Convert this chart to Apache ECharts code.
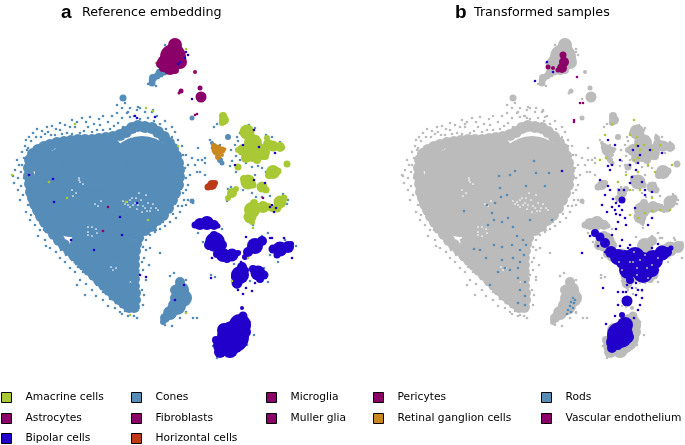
<!DOCTYPE html>
<html><head><meta charset="utf-8">
<style>html,body{margin:0;padding:0;background:#fff}#c{width:685px;height:445px}</style>
<script src="https://cdn.jsdelivr.net/npm/echarts@6/dist/echarts.min.js"></script>
</head><body><div id="c"></div>
<script>
// Values: [x, y, cluster diameter] for dense clusters, [x, y] for single cells.
const rodClusters=[[80,190,96],[142,172,72],[105,240,58],[122,270,28],[128,290,16],[60,175,50],[100,165,54],[70,215,44],[150,195,50],[130,215,50],[110,150,24],[75,155,28],[48,165,30],[45,190,30],[110,270,24],[118,285,22],[125,296,14],[95,262,20],[128,255,20],[85,245,30],[60,228,16],[130,300,10],[122,292,14],
[30,160,12],[29,168,12],[29,176,12],[30,184,12],[31,192,12],[33,198,12],[35,204,12],[38,210,12],[41,216,12],[45,222,12],[49,228,12],[54,234,12],[59,240,12],[64,245,12],[69,250,12],[74,255,12],[79,260,12],[84,265,12],[89,270,12],[94,275,12],[99,280,12],[104,285,12],[109,290,12],[114,295,12],[119,299,12],[124,303,12],[129,307,12],[134,307,12],[136,300,10],[136,293,10],[135,286,10],[135,279,10],[135,272,10],[135,265,10],[135,258,10],[136,251,10],[137,244,10],[139,238,10],[145,230,12],[151,226,12],[157,220,12],[163,215,12],[168,208,12],[172,200,12],[175,193,12],[178,185,12],[179,177,12],[179,170,12],[178,163,12],[176,156,12],[173,149,12],[169,143,12],[164,137,12],[158,132,12],[152,128,12],[145,127,12],[138,126,12],[132,128,12],[126,132,12],[120,135,12],[113,137,12],[106,138,12],[99,139,12],[92,140,12],[85,140,12],[78,140,12],[71,141,12],[64,142,12],[57,143,12],[50,145,12],[44,147,12],[38,150,12],[33,154,12],
[123,98,7],[228,137,6],[192,201,5],[180,282,10],[181,290,16],[183,298,18],[177,306,18],[170,313,14],[165,318,10],[163,322,6],[175,290,10],[176,298,12],[160,73,9],[153,78,8],[152,83,7],[164,72,7],[157,76,7],[220,160,6],[222,163,5],[212,143,4],[192,118,5]];
const rodCells=[[13,176],[15,170],[17,160],[19,165],[14,183],[18,190],[20,200],[22,152],[25,146],[24,158],[18,178],[21,172],[26,140],[29,137],[27,150],[33,133],[37,129],[42,131],[47,127],[52,126],[48,132],[56,129],[60,123],[65,125],[70,127],[72,120],[77,122],[82,118],[86,122],[90,117],[94,124],[99,119],[103,116],[108,122],[112,116],[117,113],[122,118],[127,113],[130,117],[118,123],[100,125],[88,127],[75,127],[60,130],[137,110],[145,112],[153,110],[157,116],[165,121],[172,127],[175,132],[178,140],[182,146],[186,155],[188,165],[190,175],[188,185],[186,190],[184,200],[182,206],[180,212],[176,218],[170,222],[165,226],[160,229],[155,232],[150,235],[146,240],[143,247],[146,250],[144,258],[143,270],[146,280],[144,295],[143,305],[150,248],[156,230],[28,205],[26,212],[31,215],[35,225],[30,220],[40,230],[38,236],[45,240],[50,248],[46,246],[56,252],[60,258],[65,262],[70,268],[75,272],[80,280],[86,284],[92,290],[96,296],[103,300],[108,306],[115,308],[122,314],[128,316],[134,316],[77,285],[85,295],[120,312],[117,105],[122,108],[130,108],[138,107],[125,103],[140,108],[152,112],[128,112],
[21,186],[23,195],[24,178],[22,165],[26,168],[28,148],[31,141],[36,137],[41,137],[45,134],[51,135],[55,135],[62,134],[67,133],[72,134],[80,133],[84,131],[92,132],[97,130],[103,130],[110,129],[114,126],[123,127],[134,116],[140,119],[148,118],[154,121],[160,124],[166,129],[172,137],[176,145],[183,155],[185,168],[186,178],[183,193],[178,206],[173,214],[163,222],[156,226],[148,232],[143,238],[142,262],[142,290],[33,208],[36,214],[40,222],[44,230],[50,236],[55,242],[61,250],[66,255],[72,260],[78,267],[83,272],[90,277],[97,285],[103,292],[110,299],[116,303],[125,311],
[192,158],[195,165],[200,172],[198,160],[205,163],[160,253],[149,265],[137,318],[170,276],[174,273],[186,280],[189,300],[186,312],[193,318],[197,318],[165,325],[172,326],[180,318],[156,86],[150,80],[148,84],[165,45],[211,275],[215,277],
[217,124],[214,127],[225,123],[221,124],[220,145],[210,140],[212,148],[232,161],[236,156],[231,150],[235,145],[238,141],[243,128],[240,133],[237,137],[249,125],[255,128],[246,163],[252,167],[258,166],[262,168],[266,172],[258,137],[266,135],[272,137],[280,142],[284,148],[230,166],[236,172],[240,160],[228,189],[231,187],[227,201],[248,178],[255,175],[243,190],[252,193],[256,197],[262,197],[270,196],[283,194],[287,204],[247,210],[288,200],[253,225],[198,233],[222,229],[232,258],[240,252],[262,236],[268,233],[285,240],[278,262],[296,246],[270,255],[234,264],[237,288],[250,281],[264,268],[268,282],[212,234],[208,249],[203,242],[254,335],[247,345],[250,322],[213,346],[217,358],[247,326],[202,160],[197,172],[193,203],[188,200],[205,158],[198,148],[205,175],[186,205]];
const bipolarClusters=[[200,224,12],[207,223,14],[214,225,10],[195,225,7],[218,226,5],[215,242,20],[209,245,10],[222,245,10],[214,235,8],[223,255,14],[232,255,13],[217,254,8],[227,259,8],[238,253,6],[255,246,16],[248,252,10],[262,241,10],[245,257,6],[280,249,15],[288,247,12],[273,249,9],[277,255,7],[291,244,6],[240,275,18],[242,267,10],[237,283,11],[235,277,8],[246,270,6],[258,273,15],[264,275,9],[253,269,8],[260,279,8],[233,337,32],[240,325,22],[223,345,20],[220,352,12],[230,350,16],[245,332,12],[243,316,9],[242,308,4],[216,340,8],[224,330,14],[236,347,12]];
const bipolarCells=[[137,118],[135,116],[155,117],[185,58],[188,55],[180,62],[186,52],[53,179],[29,175],[54,202],[120,217],[137,203],[94,250],[122,235],[71,240],[146,277],[175,300],[184,285],[140,275],[212,258],[292,258],[270,238],[243,145],[254,130],[259,147],[275,153],[235,165],[254,180],[265,183],[270,207],[276,208],[272,205],[274,212],[241,262],[238,290],[246,288],[255,283],[272,238],[284,238],[194,225],[252,291],[243,294],[211,278],[178,64],[246,237],[192,99]];
const amacrineClusters=[[223,116,8],[224,120,10],[222,123,6],[247,132,15],[253,143,18],[252,153,18],[243,150,12],[262,152,16],[268,144,10],[273,146,11],[280,147,10],[238,150,6],[246,158,10],[257,160,8],[265,156,8],[267,138,6],[258,146,8],[287,164,7],[273,172,14],[269,175,8],[278,171,7],[238,167,7],[248,182,15],[253,185,7],[244,179,8],[262,187,11],[266,190,7],[232,193,10],[228,198,6],[236,189,6],[252,210,16],[250,217,13],[252,222,6],[254,203,8],[263,207,12],[258,208,10],[268,207,8],[280,202,13],[277,208,9],[284,198,7],[272,209,6]];
const amacrineCells=[[253,228],[12,175],[49,182],[67,198],[75,124],[153,111],[178,146],[126,202],[130,315],[186,313],[148,220],[248,258],[232,281],[176,55],[156,63],[186,49],[146,108]];
const astrocyteClusters=[[175,45,14],[173,57,26],[165,63,16],[180,62,14],[160,64,8],[178,50,10],[170,68,14],[183,60,6],[175,70,8],[163,68,8]];
const microgliaClusters=[[201,97,11],[203,96,6],[200,88,5],[181,91,5],[179,93,3],[195,72,4]];
const pericyteCells=[[195,115],[197,114],[108,207],[103,231],[263,198]];
const ganglionClusters=[[217,150,11],[222,150,7],[214,146,6],[218,157,6],[222,155,4],[225,149,3]];
const horizontalClusters=[[212,185,10],[208,187,7],[215,183,6]];
// Panel b: transformed samples over the grey embedding
const tBipolarClusters=[[205,233,8],[210,237,9],[215,243,10],[221,252,12],[228,257,16],[235,260,20],[245,257,20],[252,263,22],[263,260,20],[272,253,15],[277,252,10],[281,248,5],[238,270,18],[253,273,20],[262,270,14],[240,280,8],[237,301,11],[232,315,6],[235,325,16],[230,335,26],[223,342,14],[238,337,12],[222,348,10],[232,200,7],[228,346,8]];
const tGreyCells=[[243,262],[247,268],[250,260],[257,268],[240,262],[232,270],[229,262],[247,275],[255,255],[262,265],[268,258],[244,252],[258,278],[233,349],[228,352],[236,307],[232,306],[250,283]];
const tBipolarCells=[[200,236],[208,246],[215,252],[230,246],[240,245],[262,270],[268,270],[228,292],[236,292],[246,295],[250,305],[228,305],[252,298],[225,316],[248,310],[213,288],[240,165],[246,170],[252,182],[255,190],[230,160],[243,150],[260,150],[272,153],[222,165],[220,170],[218,166],[218,140],[225,145],[210,180],[215,195],[222,207],[217,212],[225,210],[230,215],[235,218],[228,222],[212,205],[226,229],[236,225],[255,195],[262,192],[245,208],[262,218],[258,225],[192,253],[172,171],[157,62],[163,72],[145,81],[223,199],[226,203],[229,206],[220,190],[218,186],[229,190],[240,183],[242,177],[248,163],[250,155],[248,146],[234,190],[226,214],[232,210],[222,235],[232,240],[238,248],[262,248],[268,244],[280,247],[248,290],[242,288],[216,324],[220,330],[244,318],[252,290],[233,292],[237,285],[246,283]];
const tAmacrineCells=[[222,124],[215,135],[240,135],[247,137],[250,150],[254,145],[262,150],[270,145],[258,165],[248,158],[236,175],[228,182],[240,190],[250,190],[265,172],[282,165],[210,160],[216,158],[240,215],[255,213],[262,211],[270,210],[280,210],[248,218],[248,172],[262,198],[230,198],[244,120],[246,145],[244,160]];
const tAstrocyteClusters=[[173,55,7],[174,62,10],[172,68,10],[158,67,5],[163,68,4],[168,70,5]];
const tPericyteCells=[[187,77],[193,103],[190,103],[184,120],[184,122]];
const tRodCells=[[144,161],[120,175],[125,171],[109,176],[146,173],[159,173],[136,186],[155,186],[105,203],[110,188],[111,197],[117,195],[97,205],[74,211],[102,213],[98,225],[104,220],[112,222],[118,218],[123,227],[127,236],[133,240],[140,220],[162,220],[122,245],[130,250],[136,245],[104,245],[112,247],[90,250],[84,249],[96,258],[112,260],[123,258],[130,262],[134,255],[115,268],[108,272],[120,270],[128,268],[100,285],[128,278],[135,282],[130,290],[135,296],[128,303],[135,305],[183,298],[181,302],[184,303],[180,306],[183,308],[178,310],[181,312],[177,314],[185,300]];
// Rings and gaps in the embedding where no cell lies
const gapCells=[[88,227],[88,232],[92,227],[96,229],[97,233],[92,236],[88,235],[79,178],[80,182],[83,184],[79,180],[72,190],[76,193],[73,196],[95,204],[98,206],[101,201],[123,201],[127,202],[130,200],[133,205],[136,198],[139,193],[141,200],[143,206],[148,203],[151,208],[156,208],[146,195],[130,207],[137,209],[142,212],[147,211],[153,204],[135,203],[158,210],[132,198],[128,205],[125,204],[138,205],[145,208],[150,211],[113,270],[116,268],[111,267],[140,272],[143,278],[140,283]];
const legendColumns=[["Amacrine cells","Astrocytes","Bipolar cells"],["Cones","Fibroblasts","Horizontal cells"],["Microglia","Muller glia"],["Pericytes","Retinal ganglion cells"],["Rods","Vascular endothelium"]];
const legendLefts=[1,131,266,373,541];
const legendTops=[392,413,433];

const col={rod:'#568cb8',bip:'#2200cc',ama:'#a8c935',mag:'#8b0068',rgc:'#c8881e',hor:'#bc3a17',gray:'#bbbbbb'};
const dot=2.6;
function S(name,color,data,g,sz){return {type:'scatter',name,xAxisIndex:g,yAxisIndex:g,data,itemStyle:{color,opacity:1},
  symbolSize:sz||(v=>v.length>2?v[2]:dot),silent:true,clip:false,animation:false};}
const allRef=[...rodClusters,...rodCells,...bipolarClusters,...bipolarCells,...amacrineClusters,...amacrineCells,...astrocyteClusters,...microgliaClusters,...ganglionClusters,...horizontalClusters];
const series=[
 S('Rods',col.rod,rodClusters,0),S('Rods',col.rod,rodCells,0),
 S('gap','#ffffff',gapCells,0,1.7),
 S('Bipolar cells',col.bip,bipolarClusters,0),
 S('Amacrine cells',col.ama,amacrineClusters,0),S('Amacrine cells',col.ama,amacrineCells,0),
 S('Astrocytes',col.mag,astrocyteClusters,0),S('Muller glia',col.mag,microgliaClusters,0),
 S('Bipolar cells',col.bip,bipolarCells,0),
 S('Pericytes',col.mag,pericyteCells,0),
 S('Retinal ganglion cells',col.rgc,ganglionClusters,0),S('Horizontal cells',col.hor,horizontalClusters,0),
 S('Cones',col.rod,[],0),S('Fibroblasts',col.mag,[],0),S('Microglia',col.mag,[],0),S('Vascular endothelium',col.mag,[],0),
 S('ref','#bbbbbb',allRef,1),
 S('gap','#ffffff',gapCells,1,1.7),
 S('Rods',col.rod,tRodCells,1),
 S('Amacrine cells',col.ama,tAmacrineCells,1),
 S('Bipolar cells',col.bip,tBipolarClusters,1),S('Bipolar cells',col.bip,tBipolarCells,1),
 S('ref','#bbbbbb',tGreyCells,1,2),
 S('Astrocytes',col.mag,tAstrocyteClusters,1),S('Pericytes',col.mag,tPericyteCells,1)
];
const font='"DejaVu Sans"';
const legends=[];
legendColumns.forEach((c,i)=>c.forEach((n,j)=>legends.push({data:[{name:n,icon:'rect'}],orient:'vertical',left:legendLefts[i],top:legendTops[j],padding:0,
   itemWidth:10,itemHeight:10,selectedMode:false,
   itemStyle:{borderColor:'#000',borderWidth:1},
   textStyle:{fontFamily:font,fontSize:10.7,color:'#000',padding:[0,0,0,9]}})));
const option={animation:false,backgroundColor:'#fff',
 title:[
  {text:'a',left:61,top:3,padding:0,textStyle:{fontFamily:'Liberation Sans',fontWeight:'bold',fontSize:19,color:'#000'}},
  {text:'Reference embedding',left:82,top:6,padding:0,textStyle:{fontFamily:font,fontWeight:'normal',fontSize:12.7,color:'#000'}},
  {text:'b',left:455,top:3,padding:0,textStyle:{fontFamily:'Liberation Sans',fontWeight:'bold',fontSize:19,color:'#000'}},
  {text:'Transformed samples',left:474,top:6,padding:0,textStyle:{fontFamily:font,fontWeight:'normal',fontSize:12.7,color:'#000'}}
 ],
 grid:[{left:0,top:0,width:390,height:445},{left:390,top:0,width:295,height:445}],
 xAxis:[{type:'value',gridIndex:0,min:0,max:390,show:false},{type:'value',gridIndex:1,min:0,max:295,show:false}],
 yAxis:[{type:'value',gridIndex:0,min:0,max:445,inverse:true,show:false},{type:'value',gridIndex:1,min:0,max:445,inverse:true,show:false}],
 legend:legends,
 series};
echarts.init(document.getElementById('c'),null,{renderer:'canvas'}).setOption(option);
</script></body></html>
